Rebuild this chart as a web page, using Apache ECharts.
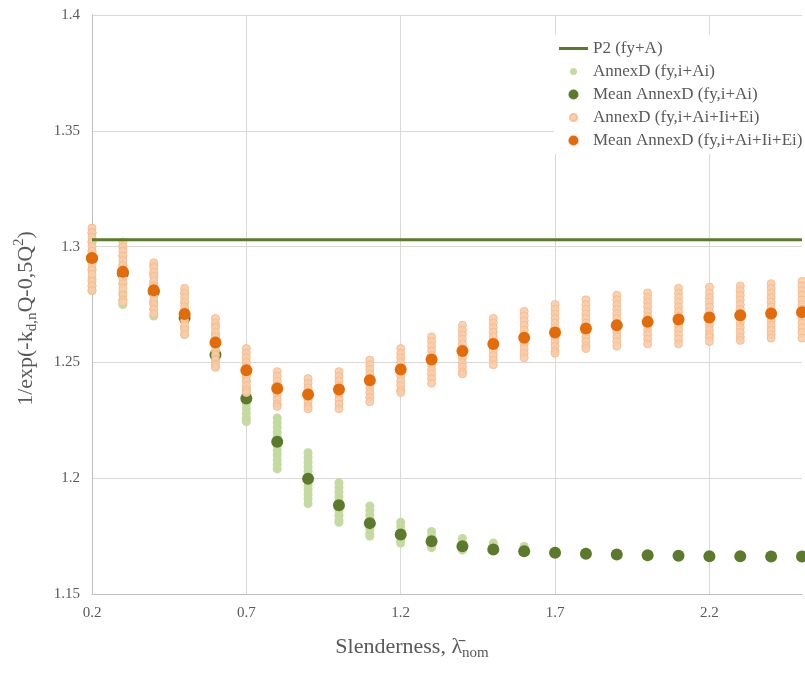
<!DOCTYPE html>
<html>
<head>
<meta charset="utf-8">
<title>Slenderness</title>
<script src="https://cdn.jsdelivr.net/npm/echarts@6/dist/echarts.min.js"></script>
<style>
    html, body { margin: 0; padding: 0; background: #fff; }
    #chart { width: 805px; height: 675px; }
</style>
</head>
<body>
<div id="chart"></div>
<script>
    // slenderness values (x)
    var xs = [0.2, 0.3, 0.4, 0.5, 0.6, 0.7, 0.8, 0.9, 1.0, 1.1, 1.2, 1.3, 1.4, 1.5, 1.6, 1.7, 1.8, 1.9, 2.0, 2.1, 2.2, 2.3, 2.4, 2.5];

    // P2 (fy+A) constant level
    var p2Level = 1.303;

    // Mean AnnexD (fy,i+Ai)
    var meanBasic = [1.295, 1.2885, 1.2805, 1.2692, 1.2533, 1.2344, 1.2157, 1.1998, 1.1883, 1.1806, 1.1757, 1.1728,
        1.1706, 1.1692, 1.1685, 1.1678, 1.1674, 1.1671, 1.1667, 1.1665, 1.1663, 1.1663, 1.1662, 1.1662];

    // Mean AnnexD (fy,i+Ai+Ii+Ei)
    var meanFull = [1.2951, 1.2891, 1.2812, 1.2709, 1.2586, 1.2466, 1.2387, 1.2361, 1.2383, 1.2423, 1.2469, 1.2513,
        1.2549, 1.2579, 1.2606, 1.2629, 1.2646, 1.266, 1.2675, 1.2685, 1.2694, 1.2704, 1.2711, 1.2717];

    // AnnexD (fy,i+Ai) samples, one list per slenderness
    var samplesBasic = [
        [1.306, 1.302, 1.298, 1.294, 1.290, 1.286, 1.283, 1.281],
        [1.300, 1.296, 1.292, 1.288, 1.284, 1.280, 1.277, 1.275],
        [1.292, 1.288, 1.284, 1.280, 1.276, 1.273, 1.270],
        [1.280, 1.276, 1.272, 1.268, 1.265, 1.262],
        [1.266, 1.262, 1.258, 1.254, 1.251, 1.248],
        [1.245, 1.242, 1.239, 1.236, 1.234, 1.232, 1.230, 1.228, 1.226, 1.2245],
        [1.226, 1.224, 1.222, 1.220, 1.218, 1.216, 1.214, 1.212, 1.210, 1.208, 1.206, 1.204],
        [1.211, 1.209, 1.207, 1.205, 1.203, 1.201, 1.199, 1.197, 1.195, 1.193, 1.191, 1.189],
        [1.198, 1.196, 1.194, 1.192, 1.190, 1.188, 1.186, 1.184, 1.182, 1.181],
        [1.188, 1.186, 1.184, 1.182, 1.180, 1.178, 1.176, 1.175],
        [1.181, 1.179, 1.177, 1.175, 1.173, 1.172],
        [1.177, 1.175, 1.173, 1.171, 1.170],
        [1.174, 1.172, 1.171, 1.170, 1.169],
        [1.172, 1.171, 1.170, 1.169],
        [1.1705, 1.169, 1.168],
        [1.1685, 1.168, 1.1675],
        [1.168, 1.1674, 1.167],
        [1.1675, 1.1671, 1.1668],
        [1.167, 1.1667, 1.1664],
        [1.1668, 1.1665, 1.1662],
        [1.1666, 1.1663, 1.166],
        [1.1666, 1.1663, 1.166],
        [1.1665, 1.1662, 1.1659],
        [1.1665, 1.1662, 1.1659]
    ];

    // AnnexD (fy,i+Ai+Ii+Ei) samples, one list per slenderness
    var samplesFull = [
        [1.308, 1.306, 1.304, 1.302, 1.300, 1.298, 1.296, 1.294, 1.292, 1.290, 1.288, 1.285, 1.283, 1.281],
        [1.302, 1.300, 1.298, 1.296, 1.294, 1.292, 1.290, 1.288, 1.286, 1.284, 1.282, 1.279, 1.277, 1.276],
        [1.293, 1.291, 1.289, 1.287, 1.285, 1.283, 1.281, 1.279, 1.277, 1.275, 1.273, 1.271],
        [1.282, 1.280, 1.278, 1.276, 1.274, 1.272, 1.270, 1.268, 1.266, 1.264, 1.262],
        [1.269, 1.267, 1.265, 1.263, 1.261, 1.259, 1.257, 1.255, 1.253, 1.251, 1.249, 1.248],
        [1.256, 1.254, 1.252, 1.250, 1.248, 1.246, 1.244, 1.242, 1.240, 1.238, 1.237],
        [1.246, 1.244, 1.242, 1.240, 1.238, 1.236, 1.234, 1.232, 1.231],
        [1.243, 1.241, 1.239, 1.237, 1.235, 1.233, 1.231, 1.230],
        [1.246, 1.244, 1.242, 1.240, 1.238, 1.236, 1.234, 1.232, 1.230],
        [1.251, 1.249, 1.247, 1.245, 1.243, 1.241, 1.239, 1.237, 1.235, 1.233],
        [1.256, 1.254, 1.252, 1.250, 1.248, 1.246, 1.244, 1.242, 1.240, 1.238, 1.237],
        [1.261, 1.259, 1.257, 1.255, 1.253, 1.251, 1.249, 1.247, 1.245, 1.243, 1.241],
        [1.266, 1.264, 1.262, 1.260, 1.258, 1.256, 1.254, 1.252, 1.250, 1.248, 1.246, 1.245],
        [1.269, 1.267, 1.265, 1.263, 1.261, 1.259, 1.257, 1.255, 1.253, 1.251, 1.249],
        [1.272, 1.270, 1.268, 1.266, 1.264, 1.262, 1.260, 1.258, 1.256, 1.254, 1.252],
        [1.275, 1.273, 1.271, 1.269, 1.267, 1.265, 1.263, 1.261, 1.259, 1.257, 1.255, 1.254],
        [1.277, 1.275, 1.273, 1.271, 1.269, 1.267, 1.265, 1.263, 1.261, 1.259, 1.257, 1.256],
        [1.279, 1.277, 1.275, 1.273, 1.271, 1.269, 1.267, 1.265, 1.263, 1.261, 1.259, 1.257],
        [1.280, 1.278, 1.276, 1.274, 1.272, 1.270, 1.268, 1.266, 1.264, 1.262, 1.260, 1.258],
        [1.282, 1.280, 1.278, 1.276, 1.274, 1.272, 1.270, 1.268, 1.266, 1.264, 1.262, 1.260, 1.258],
        [1.2825, 1.280, 1.278, 1.276, 1.274, 1.272, 1.270, 1.268, 1.266, 1.264, 1.262, 1.261, 1.259],
        [1.283, 1.281, 1.279, 1.277, 1.275, 1.273, 1.271, 1.269, 1.267, 1.265, 1.263, 1.261, 1.2595],
        [1.284, 1.282, 1.280, 1.278, 1.276, 1.274, 1.272, 1.270, 1.268, 1.266, 1.264, 1.262, 1.2605],
        [1.285, 1.283, 1.281, 1.279, 1.277, 1.275, 1.273, 1.271, 1.269, 1.267, 1.265, 1.263, 1.2605]
    ];

    var names = ['P2 (fy+A)', 'AnnexD (fy,i+Ai)', 'Mean AnnexD (fy,i+Ai)', 'AnnexD (fy,i+Ai+Ii+Ei)', 'Mean AnnexD (fy,i+Ai+Ii+Ei)'];

    var FONT = 'Liberation Serif';
    var TEXT_COLOR = '#595959';
    var GREEN_DARK = '#5B7A2C';
    var GREEN_LIGHT = '#C4DAA1';
    var ORANGE_DARK = '#E36C09';
    var ORANGE_LIGHT = '#F9CCA9';

    function flatten(samples) {
        var out = [];
        samples.forEach(function (list, i) {
            list.forEach(function (v) { out.push([xs[i], v]); });
        });
        return out;
    }
    function pairs(values) {
        return values.map(function (v, i) { return [xs[i], v]; });
    }

    // legend icons: padded box so the shapes keep their own size
    var smallDot = 'path://M0,0M10,10M1.5,5a3.5,3.5 0 1,0 7,0a3.5,3.5 0 1,0 -7,0';
    var lineIcon = 'path://M0,0M29,10M0,3.5L29,3.5L29,6.5L0,6.5Z';

    var chart = echarts.init(document.getElementById('chart'));
    chart.setOption({
        backgroundColor: '#fff',
        animation: false,
        grid: {
            left: 92,
            right: 3,
            top: 15,
            bottom: 81,
            containLabel: false,
            outerBoundsMode: 'none'
        },
        legend: {
            orient: 'vertical',
            left: 554,
            top: 35,
            padding: [5, 8, 5, 5],
            itemGap: 6,
            itemWidth: 29,
            itemHeight: 10,
            backgroundColor: '#fff',
            textStyle: {
                fontFamily: FONT,
                fontSize: 17,
                color: TEXT_COLOR
            },
            data: [
                { name: names[0], icon: lineIcon, itemStyle: { color: GREEN_DARK } },
                { name: names[1], icon: smallDot },
                { name: names[2], icon: 'circle' },
                { name: names[3], icon: smallDot },
                { name: names[4], icon: 'circle' }
            ]
        },
        xAxis: {
            type: 'value',
            min: 0.2,
            max: 2.5,
            interval: 0.5,
            name: '{n|Slenderness, \u03BB\u0304}{sub|nom}',
            nameLocation: 'middle',
            nameGap: 39,
            nameTextStyle: {
                padding: [0, 70, 0, 0],
                rich: {
                    n: { fontFamily: FONT, fontSize: 22, lineHeight: 28, color: TEXT_COLOR },
                    sub: { fontFamily: FONT, fontSize: 15, lineHeight: 15, color: TEXT_COLOR, verticalAlign: 'bottom' }
                }
            },
            axisLine: { show: true, lineStyle: { color: '#BFBFBF', width: 1 } },
            axisTick: { show: false },
            axisLabel: {
                fontFamily: FONT,
                fontSize: 15,
                color: TEXT_COLOR,
                margin: 12,
                showMaxLabel: false
            },
            splitLine: {
                show: true,
                showMaxLine: false,
                lineStyle: { color: '#D9D9D9', width: 1 }
            }
        },
        yAxis: {
            type: 'value',
            min: 1.15,
            max: 1.4,
            interval: 0.05,
            name: '{n|1/exp(-k}{sub|d,n}{n|Q-0,5Q}{sup|2}{n|)}',
            nameLocation: 'middle',
            nameRotate: 90,
            nameGap: 52,
            nameTextStyle: {
                padding: [0, 28, 0, 0],
                rich: {
                    n: { fontFamily: FONT, fontSize: 22, lineHeight: 28, color: TEXT_COLOR },
                    sub: { fontFamily: FONT, fontSize: 15, lineHeight: 15, color: TEXT_COLOR, verticalAlign: 'bottom' },
                    sup: { fontFamily: FONT, fontSize: 15, lineHeight: 15, color: TEXT_COLOR, verticalAlign: 'top' }
                }
            },
            axisLine: { show: true, lineStyle: { color: '#BFBFBF', width: 1 } },
            axisTick: { show: false },
            axisLabel: {
                fontFamily: FONT,
                fontSize: 15,
                color: TEXT_COLOR,
                margin: 12
            },
            splitLine: {
                show: true,
                lineStyle: { color: '#D9D9D9', width: 1 }
            }
        },
        series: [
            {
                name: names[0],
                type: 'line',
                symbol: 'none',
                data: [[xs[0], p2Level], [xs[xs.length - 1], p2Level]],
                lineStyle: { color: GREEN_DARK, width: 3 },
                itemStyle: { color: GREEN_DARK }
            },
            {
                name: names[1],
                type: 'scatter',
                symbolSize: 9,
                clip: false,
                data: flatten(samplesBasic),
                itemStyle: { color: GREEN_LIGHT, opacity: 1 }
            },
            {
                name: names[2],
                type: 'scatter',
                symbolSize: 12,
                clip: false,
                data: pairs(meanBasic),
                itemStyle: { color: GREEN_DARK, opacity: 1 }
            },
            {
                name: names[3],
                type: 'scatter',
                symbolSize: 8,
                clip: false,
                data: flatten(samplesFull),
                itemStyle: {
                    color: ORANGE_LIGHT,
                    borderColor: '#F5BB8E',
                    borderWidth: 1,
                    opacity: 0.9
                }
            },
            {
                name: names[4],
                type: 'scatter',
                symbolSize: 12,
                clip: false,
                data: pairs(meanFull),
                itemStyle: { color: ORANGE_DARK, opacity: 1 }
            }
        ]
    });
</script>
</body>
</html>
